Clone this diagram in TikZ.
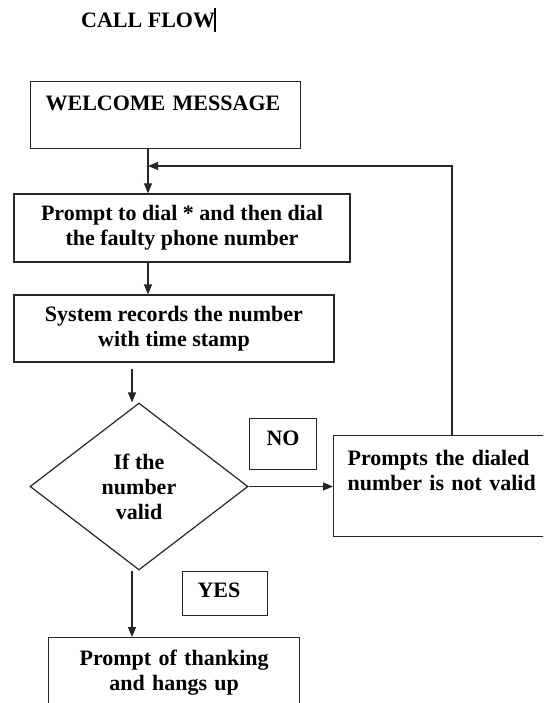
\documentclass[tikz,border=0pt]{standalone}
\usepackage{fontspec}
\setmainfont{Liberation Serif}
\usetikzlibrary{shapes.geometric,arrows.meta}
\tikzstyle{heading} = [font=\fontsize{22}{25}\selectfont\bfseries,inner sep=0pt]
\tikzstyle{message} = [rectangle,anchor=north west,draw=black!85,line width=1.2pt,inner ysep=0pt,font=\fontsize{22}{25}\selectfont\bfseries]
\tikzstyle{process} = [rectangle,draw=black!85,line width=1.2pt,inner sep=0pt,align=center,font=\fontsize{22}{25}\selectfont\bfseries]
\tikzstyle{decision} = [diamond,draw=black!85,line width=1.2pt,inner sep=0pt,align=center,minimum width=218pt,minimum height=167pt,font=\fontsize{22}{25}\selectfont\bfseries]
\tikzstyle{answer} = [rectangle,anchor=north west,draw=black!85,line width=1.2pt,inner ysep=0pt,font=\fontsize{22}{25}\selectfont\bfseries]
\tikzstyle{arrow} = [line width=1.2pt,draw=black!85,->,>={Triangle[length=10pt,width=8pt]}]

\begin{document}
\begin{tikzpicture}[x=1pt,y=-1pt]
\useasboundingbox (0,0) rectangle (543,703);
\clip (0,0) rectangle (543,703);

\node (heading) [heading,anchor=base west] at (81,28) {CALL FLOW};
\draw [line width=1.8pt] (215,8) -- (215,32);

\node (welcome) [message,text width=240pt,inner xsep=15pt,align=left,text height=29pt,text depth=38pt] at (30,81) {WELCOME MESSAGE};
\node (prompt) [process,minimum width=336pt,minimum height=68pt] at (182,228) {Prompt to dial * and then dial\\the faulty phone number};
\node (system) [process,minimum width=320pt,minimum height=67pt] at (174,328.5) {System records the number\\with time stamp};
\node (decision) [decision] at (139,486.5) {If the\\number\\valid};
\node (no) [answer,minimum width=67pt,align=center,text height=27pt,text depth=24pt] at (249,418) {NO};
\node (invalid) [message,text width=200pt,inner xsep=14pt,align=left,text height=30pt,text depth=71pt] at (333,435) {Prompts the dialed\\number is not valid};
\node (yes) [answer,text width=55pt,inner xsep=15pt,align=left,text height=26pt,text depth=18pt] at (182,571) {YES};
\node (thanks) [message,text width=241pt,inner xsep=5pt,align=center,text height=28pt,text depth=80pt] at (48,637) {Prompt of thanking\\and hangs up};

\coordinate (join) at (148,166);
\coordinate (back) at (452,166);
\coordinate (top) at ([xshift=-7pt]decision.north);
\coordinate (bottom) at ([xshift=-7pt]decision.south);

\draw [arrow] (welcome.south -| join) -- (prompt.north -| join);
\draw [arrow] (prompt.south -| join) -- (system.north -| join);
\draw [arrow,shorten <=6pt] (system.south -| top) -- (top);
\draw [arrow] (decision.east) -- (decision.east -| invalid.west);
\draw [arrow] (invalid.north -| back) -- (back) -- (join);
\draw [arrow] (bottom) -- (bottom |- thanks.north);
\end{tikzpicture}
\end{document}
